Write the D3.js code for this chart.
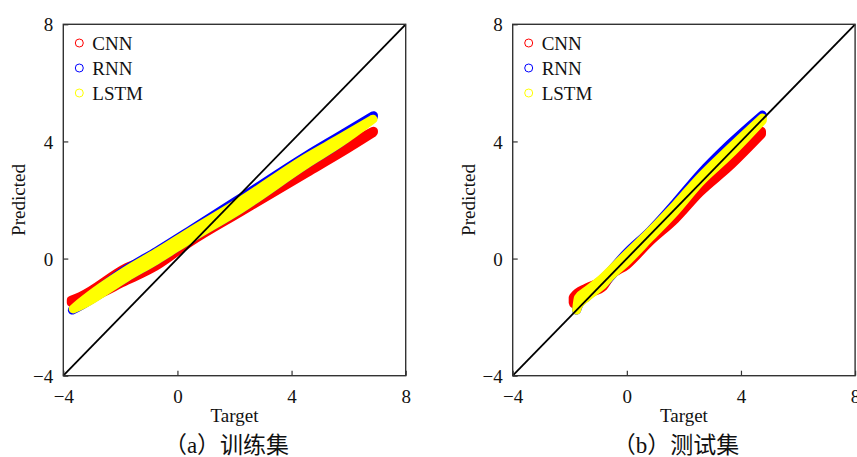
<!DOCTYPE html>
<html>
<head>
<meta charset="utf-8">
<script src="https://cdn.jsdelivr.net/npm/d3@7"></script>
<style>
  body { margin: 0; background: #fff; }
  svg text { font-family: "Liberation Serif", "Times New Roman", "Noto Sans CJK SC", serif; fill: #111; }
</style>
</head>
<body>
<div id="chart"></div>
<script>
// Data: Target vs Predicted.
// The scatter clouds are dense, so each series is kept as the low/high
// edge of its cloud (circle centres) at a few target values.
const models = ["CNN", "RNN", "LSTM"];
const modelColors = ["#ff0000", "#0000ff", "#ffff00"];
const axisTicks = [-4, 0, 4, 8];

// training set
const trainCnnTarget = [-3.72, -3.41, -1.78, -0.73, 0.44, 2.19, 4.53, 5.7, 6.87];
const trainCnnHigh   = [-1.42, -1.3, -0.31, 0.1, 0.85, 1.8, 3.1, 3.75, 4.35];
const trainCnnLow    = [-1.5, -1.45, -0.75, -0.24, 0.56, 1.58, 2.93, 3.6, 4.31];

const trainRnnTarget = [-3.68, -3.41, -1.78, -0.73, 0.5, 2.19, 4.53, 5.7, 6.87];
const trainRnnHigh   = [-1.76, -1.55, -0.36, 0.25, 1.0, 2.05, 3.52, 4.2, 4.88];
const trainRnnLow    = [-1.76, -1.62, -0.64, -0.05, 0.7, 1.68, 3.23, 3.95, 4.85];

const trainLstmTarget = [-3.65, -3.41, -1.78, -0.73, 0.5, 2.19, 4.53, 5.7, 6.85];
const trainLstmHigh   = [-1.72, -1.52, -0.4, 0.2, 0.95, 1.95, 3.45, 4.1, 4.76];
const trainLstmLow    = [-1.72, -1.62, -0.64, -0.05, 0.7, 1.68, 3.23, 3.95, 4.76];

// test set
const testCnnTarget = [-1.88, -1.86, -1.41, -0.82, -0.59, 0.0, 0.81, 1.7, 2.56, 3.6, 4.72];
const testCnnHigh   = [-1.33, -1.3, -1.0, -0.72, -0.48, -0.05, 0.72, 1.55, 2.42, 3.35, 4.35];
const testCnnLow    = [-1.5, -1.55, -1.22, -0.95, -0.62, -0.22, 0.58, 1.35, 2.26, 3.15, 4.25];

const testRnnTarget = [-1.76, -1.7, -1.4, -0.8, 0.0, 0.81, 1.7, 2.56, 3.6, 4.75];
const testRnnHigh   = [-1.76, -1.5, -1.15, -0.65, 0.2, 0.94, 1.9, 2.88, 3.9, 4.9];
const testRnnLow    = [-1.76, -1.6, -1.3, -0.85, 0.0, 0.75, 1.7, 2.65, 3.7, 4.88];

const testLstmTarget = [-1.76, -1.7, -1.4, -0.8, -0.59, 0.0, 0.81, 1.7, 2.56, 3.6, 4.75];
const testLstmHigh   = [-1.76, -1.35, -1.1, -0.62, -0.42, 0.15, 0.92, 1.82, 2.76, 3.75, 4.8];
const testLstmLow    = [-1.76, -1.6, -1.32, -0.85, -0.62, -0.1, 0.72, 1.62, 2.6, 3.55, 4.72];

const width = 857, height = 457;

const svg = d3.select("#chart")
    .append("svg")
    .attr("width", width)
    .attr("height", height);

const zip = (ts, lo, hi) => ts.map((t, i) => ({ t, lo: lo[i], hi: hi[i] }));

function drawPanel(left, series, caption) {
    const right = left + 342.4, top = 24.3, bottom = 375.7;
    const x = d3.scaleLinear().domain([-4, 8]).range([left, right]);
    const y = d3.scaleLinear().domain([-4, 8]).range([bottom, top]);
    const g = svg.append("g");

    // point clouds: area between low/high centres, stroked by the marker diameter
    const area = d3.area()
        .x(d => x(d.t))
        .y0(d => y(d.lo))
        .y1(d => y(d.hi))
        .curve(d3.curveMonotoneX);
    series.forEach((pts, i) => {
        g.append("path")
            .attr("d", area(pts))
            .attr("fill", modelColors[i])
            .attr("stroke", modelColors[i])
            .attr("stroke-width", 9)
            .attr("stroke-linejoin", "round")
            .attr("stroke-linecap", "round");
    });

    // y = x reference line
    g.append("line")
        .attr("x1", x(-4)).attr("y1", y(-4))
        .attr("x2", x(8)).attr("y2", y(8))
        .attr("stroke", "#000")
        .attr("stroke-width", 1.8);

    // frame
    g.append("rect")
        .attr("x", left).attr("y", top)
        .attr("width", right - left).attr("height", bottom - top)
        .attr("fill", "none")
        .attr("stroke", "#333")
        .attr("stroke-width", 1.4);

    // inward ticks
    const fmt = d => d < 0 ? "\u2212" + Math.abs(d) : d;
    const xAxis = d3.axisBottom(x).tickValues(axisTicks).tickSizeInner(-5).tickSizeOuter(0)
        .tickFormat(fmt).tickPadding(10);
    const yAxis = d3.axisLeft(y).tickValues(axisTicks).tickSizeInner(-5).tickSizeOuter(0)
        .tickFormat(fmt).tickPadding(10);

    const gx = g.append("g").attr("transform", `translate(0,${bottom})`).call(xAxis);
    const gy = g.append("g").attr("transform", `translate(${left},0)`).call(yAxis);
    [gx, gy].forEach(ax => {
        ax.select(".domain").remove();
        ax.selectAll("line").attr("stroke", "#333").attr("stroke-width", 1.2);
        ax.selectAll("text").style("font-size", "19px").attr("fill", "#111");
    });
    gx.selectAll("text").attr("dy", "0.9em");
    gy.selectAll("text").attr("dy", "0.35em");

    // axis titles
    g.append("text")
        .attr("x", (left + right) / 2)
        .attr("y", 422)
        .attr("text-anchor", "middle")
        .style("font-size", "19px")
        .text("Target");

    g.append("text")
        .attr("transform", `translate(${left - 38},${(top + bottom) / 2}) rotate(-90)`)
        .attr("text-anchor", "middle")
        .style("font-size", "19px")
        .text("Predicted");

    // legend
    models.forEach((m, i) => {
        const ly = 43 + i * 25;
        g.append("circle")
            .attr("cx", left + 16)
            .attr("cy", ly)
            .attr("r", 4)
            .attr("fill", "none")
            .attr("stroke", modelColors[i])
            .attr("stroke-width", 1);
        g.append("text")
            .attr("x", left + 29)
            .attr("y", ly + 6.5)
            .style("font-size", "19px")
            .text(m);
    });

    // caption
    g.append("text")
        .attr("x", (left + right) / 2 - 8)
        .attr("y", 453)
        .attr("text-anchor", "middle")
        .style("font-size", "23px")
        .text(caption);
}

drawPanel(63.3, [
    zip(trainCnnTarget, trainCnnLow, trainCnnHigh),
    zip(trainRnnTarget, trainRnnLow, trainRnnHigh),
    zip(trainLstmTarget, trainLstmLow, trainLstmHigh)
], "\uff08a\uff09训练集");

drawPanel(512.7, [
    zip(testCnnTarget, testCnnLow, testCnnHigh),
    zip(testRnnTarget, testRnnLow, testRnnHigh),
    zip(testLstmTarget, testLstmLow, testLstmHigh)
], "\uff08b\uff09测试集");
</script>
</body>
</html>
